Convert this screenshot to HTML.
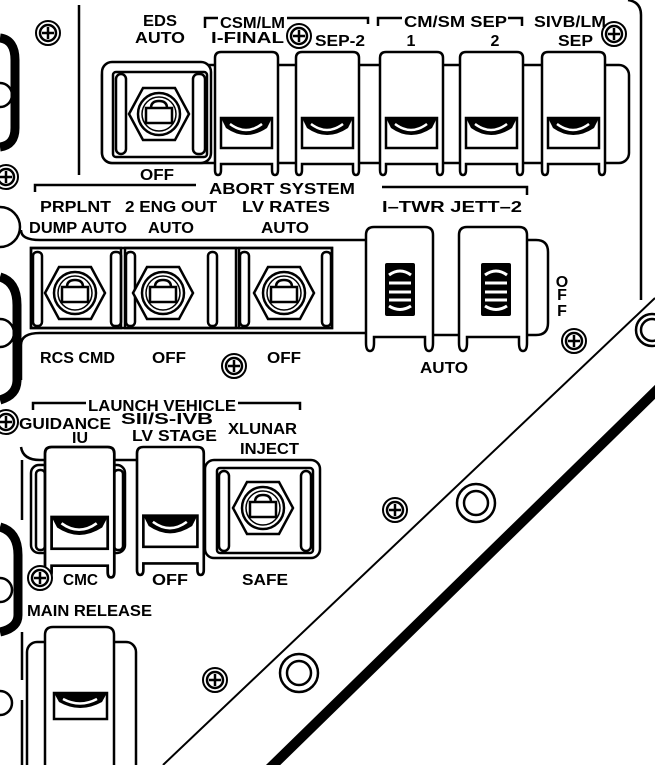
<!DOCTYPE html>
<html><head><meta charset="utf-8"><style>
html,body{margin:0;padding:0;background:#fff;}
svg{display:block;}
text{font-family:"Liberation Sans",sans-serif;font-weight:bold;font-size:16px;fill:#000;}
</style></head><body>
<svg width="655" height="765" viewBox="0 0 655 765" xmlns="http://www.w3.org/2000/svg">
<defs>
<g id="screw"><circle r="12" fill="#fff" stroke="#000" stroke-width="2"/><circle r="8" fill="#fff" stroke="#000" stroke-width="2.5"/><path d="M-6,0H6M0,-6V6" stroke="#000" stroke-width="2.5"/></g>
<g id="hex"><polygon points="-30,0 -16,-26 16,-26 30,0 16,26 -16,26" fill="#fff" stroke="#000" stroke-width="2.5"/><circle r="21" fill="#fff" stroke="#000" stroke-width="2.5"/><circle r="17" fill="none" stroke="#000" stroke-width="1.5"/><path d="M-8,-6 Q-8,-13 0,-13 Q8,-13 8,-6" fill="#fff" stroke="#000" stroke-width="2.5"/><rect x="-13" y="-6" width="26" height="15" fill="#fff" stroke="#000" stroke-width="2.5"/></g>
<g id="guard"><path d="M0,118 V6 Q0,0 6,0 H57 Q63,0 63,6 V118 q0,5 -3,5 q-3,0 -3,-5 V112 H6 V118 q0,5 -3,5 q-3,0 -3,-5" fill="#fff" stroke="#000" stroke-width="2.5"/><rect x="6" y="66" width="51" height="30" fill="#fff" stroke="#000" stroke-width="2.5"/><path d="M6,66 H57 L52,76 Q31,90 11,76 Z" fill="#000"/><path d="M15,72 Q31,84 47,72" fill="none" stroke="#fff" stroke-width="2.5"/></g>
<g id="rocker"><rect x="0" y="0" width="30" height="53" rx="2" fill="#000"/><path d="M4,12 Q15,4 26,12 M4,20H26 M4,29H26 M4,37H26 M4,43 Q15,50 26,43" stroke="#fff" stroke-width="3" fill="none"/></g>
</defs>
<g fill="none" stroke="#000" stroke-width="2.5">
<path d="M0,38 Q15,40 15,60 V128 Q15,145 0,147" stroke-width="9"/>
<path d="M0,277 Q17,282 17,305 V380 Q17,395 0,400" stroke-width="9"/>
<path d="M0,527 Q18,532 18,555 V615 Q18,628 0,632" stroke-width="9"/>
<circle cx="0" cy="227" r="20"/><circle cx="0" cy="333" r="14"/><circle cx="0" cy="590" r="12"/><circle cx="0" cy="703" r="12"/><circle cx="0" cy="95" r="12"/>
<path d="M628,0 Q641,2 641,15 V300"/>
<line x1="655" y1="298" x2="163" y2="765" stroke-width="2"/>
<line x1="659" y1="388" x2="268" y2="770" stroke-width="10"/>
<circle cx="652" cy="330" r="16"/><circle cx="652" cy="330" r="11"/>
<circle cx="476" cy="503" r="19"/><circle cx="476" cy="503" r="12"/>
<circle cx="299" cy="673" r="19"/><circle cx="299" cy="673" r="12"/>
<line x1="79" y1="5" x2="79" y2="175"/>
<path d="M205,28 V18 H218 M287,18 H368 V24"/>
<path d="M378,26 V18 H402 M508,18 H522 V26"/>
<path d="M35,192 V185 H196"/>
<path d="M382,187 H527 V195"/>
<path d="M33,410 V403 H86 M238,403 H300 V410"/>
<rect x="102" y="65" width="527" height="98" rx="10" fill="#fff"/>
<rect x="102" y="62" width="109" height="101" rx="10" fill="#fff"/>
<rect x="113" y="72" width="94" height="85" rx="3"/>
<rect x="116" y="74" width="10" height="80" rx="5"/>
<rect x="193" y="74" width="12" height="80" rx="5"/>
<path d="M21,230 Q21,240 40,240 H366 M527,240 H536 Q548,240 548,252 V323 Q548,335 536,335 H433 M366,333 H40 Q21,333 21,345 V380"/>
<rect x="31" y="248" width="301" height="80" fill="#fff"/>
<rect x="31" y="248" width="90" height="80"/>
<rect x="125" y="248" width="111" height="80"/>
<rect x="239" y="248" width="93" height="80"/>
<rect x="33" y="252" width="9" height="74" rx="4"/><rect x="111" y="252" width="10" height="74" rx="4"/>
<rect x="126" y="252" width="9" height="74" rx="4"/><rect x="208" y="252" width="9" height="74" rx="4"/>
<rect x="240" y="252" width="9" height="74" rx="4"/><rect x="322" y="252" width="9" height="74" rx="4"/>
<path d="M21,447 Q23,460 40,460 H205 M22,460 V520 M22,632 V680 M22,700 V765"/>
<rect x="31" y="465" width="94" height="88" rx="8" fill="#fff"/>
<rect x="36" y="470" width="9" height="80" rx="4"/><rect x="114" y="470" width="9" height="80" rx="4"/>
<rect x="205" y="460" width="115" height="98" rx="9" fill="#fff"/>
<rect x="217" y="468" width="96" height="85" rx="3"/>
<rect x="219" y="471" width="10" height="80" rx="5"/><rect x="301" y="471" width="10" height="80" rx="5"/>
<rect x="27" y="642" width="109" height="140" rx="10" fill="#fff"/>
</g>
<use href="#guard" transform="translate(215,52)"/>
<use href="#guard" transform="translate(296,52)"/>
<use href="#guard" transform="translate(380,52)"/>
<use href="#guard" transform="translate(460,52)"/>
<use href="#guard" transform="translate(542,52)"/>
<use href="#hex" transform="translate(159,114)"/>
<use href="#hex" transform="translate(75,293)"/>
<use href="#hex" transform="translate(163,293)"/>
<use href="#hex" transform="translate(284,293)"/>
<use href="#hex" transform="translate(263,508)"/>
<g fill="#fff" stroke="#000" stroke-width="2.5">
<path d="M366,343 V235 Q366,227 374,227 H425 Q433,227 433,235 V343 q0,8 -4,8 q-4,0 -4,-8 V337 H374 V343 q0,8 -4,8 q-4,0 -4,-8"/>
<path d="M459,343 V235 Q459,227 467,227 H519 Q527,227 527,235 V343 q0,8 -4,8 q-4,0 -4,-8 V337 H467 V343 q0,8 -4,8 q-4,0 -4,-8"/>
</g>
<use href="#rocker" transform="translate(385,263)"/>
<use href="#rocker" transform="translate(481,263)"/>
<g transform="translate(45,447) scale(1.1,1.06)"><use href="#guard"/></g>
<g transform="translate(137,447) scale(1.06,1.04)"><use href="#guard"/></g>
<g fill="#fff" stroke="#000" stroke-width="2.5">
<path d="M45,765 V635 Q45,627 53,627 H106 Q114,627 114,635 V765"/>
<rect x="54" y="693" width="53" height="26"/>
</g>
<path d="M54,693 H107 L102,702 Q80,714 59,702 Z" fill="#000"/>
<path d="M63,699 Q80,708 97,699" fill="none" stroke="#fff" stroke-width="2.5"/>
<use href="#screw" transform="translate(48,33)"/>
<use href="#screw" transform="translate(299,36)"/>
<use href="#screw" transform="translate(614,34)"/>
<use href="#screw" transform="translate(6,177)"/>
<use href="#screw" transform="translate(234,366)"/>
<use href="#screw" transform="translate(574,341)"/>
<use href="#screw" transform="translate(6,422)"/>
<use href="#screw" transform="translate(40,578)"/>
<use href="#screw" transform="translate(395,510)"/>
<use href="#screw" transform="translate(215,680)"/>
<text x="160" y="26" text-anchor="middle" textLength="34" lengthAdjust="spacingAndGlyphs">EDS</text>
<text x="135" y="43" textLength="50" lengthAdjust="spacingAndGlyphs">AUTO</text>
<text x="220" y="28" textLength="65" lengthAdjust="spacingAndGlyphs">CSM/LM</text>
<text x="211" y="43" textLength="73" lengthAdjust="spacingAndGlyphs">I-FINAL</text>
<text x="315" y="46" textLength="50" lengthAdjust="spacingAndGlyphs">SEP-2</text>
<text x="404" y="27" textLength="103" lengthAdjust="spacingAndGlyphs">CM/SM SEP</text>
<text x="411" y="46" text-anchor="middle">1</text>
<text x="495" y="46" text-anchor="middle">2</text>
<text x="534" y="27" textLength="72" lengthAdjust="spacingAndGlyphs">SIVB/LM</text>
<text x="558" y="46" textLength="35" lengthAdjust="spacingAndGlyphs">SEP</text>
<text x="140" y="180" textLength="34" lengthAdjust="spacingAndGlyphs">OFF</text>
<text x="209" y="194" textLength="146" lengthAdjust="spacingAndGlyphs">ABORT SYSTEM</text>
<text x="40" y="212" textLength="71" lengthAdjust="spacingAndGlyphs">PRPLNT</text>
<text x="125" y="212" textLength="92" lengthAdjust="spacingAndGlyphs">2 ENG OUT</text>
<text x="242" y="212" textLength="88" lengthAdjust="spacingAndGlyphs">LV RATES</text>
<text x="382" y="212" textLength="140" lengthAdjust="spacingAndGlyphs">I–TWR JETT–2</text>
<text x="29" y="233" textLength="98" lengthAdjust="spacingAndGlyphs">DUMP AUTO</text>
<text x="148" y="233" textLength="46" lengthAdjust="spacingAndGlyphs">AUTO</text>
<text x="261" y="233" textLength="48" lengthAdjust="spacingAndGlyphs">AUTO</text>
<text x="562" y="287" text-anchor="middle">O</text>
<text x="562" y="300" text-anchor="middle">F</text>
<text x="562" y="316" text-anchor="middle">F</text>
<text x="40" y="363" textLength="75" lengthAdjust="spacingAndGlyphs">RCS CMD</text>
<text x="152" y="363" textLength="34" lengthAdjust="spacingAndGlyphs">OFF</text>
<text x="267" y="363" textLength="34" lengthAdjust="spacingAndGlyphs">OFF</text>
<text x="420" y="373" textLength="48" lengthAdjust="spacingAndGlyphs">AUTO</text>
<text x="88" y="411" textLength="148" lengthAdjust="spacingAndGlyphs">LAUNCH VEHICLE</text>
<text x="19" y="429" textLength="92" lengthAdjust="spacingAndGlyphs">GUIDANCE</text>
<text x="80" y="443" text-anchor="middle">IU</text>
<text x="121" y="424" textLength="92" lengthAdjust="spacingAndGlyphs">SII/S-IVB</text>
<text x="132" y="441" textLength="85" lengthAdjust="spacingAndGlyphs">LV STAGE</text>
<text x="228" y="434" textLength="69" lengthAdjust="spacingAndGlyphs">XLUNAR</text>
<text x="240" y="454" textLength="59" lengthAdjust="spacingAndGlyphs">INJECT</text>
<text x="63" y="585" textLength="35" lengthAdjust="spacingAndGlyphs">CMC</text>
<text x="152" y="585" textLength="36" lengthAdjust="spacingAndGlyphs">OFF</text>
<text x="242" y="585" textLength="46" lengthAdjust="spacingAndGlyphs">SAFE</text>
<text x="27" y="616" textLength="125" lengthAdjust="spacingAndGlyphs">MAIN RELEASE</text>
</svg>
</body></html>
